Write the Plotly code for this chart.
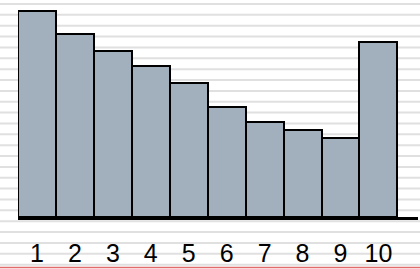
import plotly.graph_objects as go

categories = ["1", "2", "3", "4", "5", "6", "7", "8", "9", "10"]
values = [2.61, 2.32, 2.10, 1.91, 1.70, 1.39, 1.20, 1.10, 1.00, 2.21]

W, H = 420, 269
L, R, T, B = 18, 2, 0, 52
plot_h = H - T - B
px_per_unit_x = 37.94
px_per_unit_y = 79.0

x_pos = list(range(1, len(categories) + 1))

fig = go.Figure()
fig.add_trace(go.Bar(
    x=x_pos, y=values,
    marker=dict(color="#a2b0be", line=dict(color="#000000", width=2)),
    width=1.0,
))

# lined-paper background
shapes = []
py = 4.0
while py < H:
    yp = (plot_h + T - py) / plot_h
    shapes.append(dict(type="line", xref="paper", yref="paper",
                       x0=-L / (W - L - R), x1=1 + R / (W - L - R), y0=yp, y1=yp,
                       line=dict(color="#e0e0e0", width=2), layer="below"))
    py += 10.86
red_y = (plot_h + T - 267.5) / plot_h
shapes.append(dict(type="line", xref="paper", yref="paper",
                   x0=-L / (W - L - R), x1=1 + R / (W - L - R), y0=red_y, y1=red_y,
                   line=dict(color="#e06a6a", width=1.5), layer="below"))

fig.update_layout(
    width=W, height=H,
    margin=dict(l=L, r=R, t=T, b=B, pad=0, autoexpand=False),
    paper_bgcolor="white", plot_bgcolor="rgba(0,0,0,0)",
    showlegend=False, bargap=0,
    shapes=shapes,
    xaxis=dict(
        range=[0.5, 0.5 + (W - L - R) / px_per_unit_x],
        tickmode="array", tickvals=x_pos, ticktext=categories,
        showgrid=False, zeroline=False, showline=True, linecolor="black", linewidth=3,
        ticks="", ticklabelstandoff=12, automargin=False,
        tickfont=dict(family="Liberation Sans, Arial, sans-serif", size=25, color="black"),
        fixedrange=True,
    ),
    yaxis=dict(
        range=[0, plot_h / px_per_unit_y],
        visible=False, showgrid=False, zeroline=False, fixedrange=True,
        automargin=False,
    ),
)

fig.write_html("out.html", config={"displayModeBar": False},
               post_script="document.body.style.margin='0';document.body.style.overflow='hidden';")
